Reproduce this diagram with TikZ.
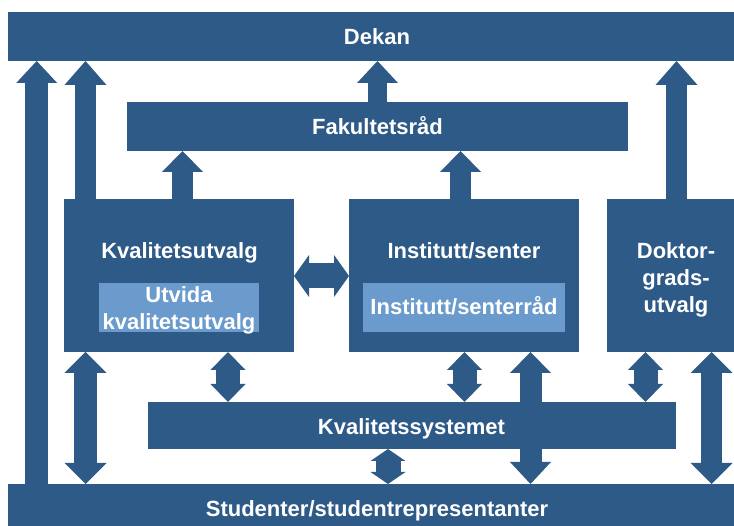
\documentclass[tikz,border=0pt]{standalone}
\usepackage{fontspec}
\setmainfont{Liberation Sans}
\usetikzlibrary{arrows.meta}
\definecolor{dk}{HTML}{2E5A87}
\definecolor{lt}{HTML}{6A9BCC}
\begin{document}
\begin{tikzpicture}[x=1pt,y=-1pt,
  box/.style={fill=dk, draw=none, inner sep=0pt, outer sep=0pt, anchor=north west},
  sub/.style={fill=lt, draw=none, inner sep=0pt, outer sep=0pt, anchor=north west},
  lbl/.style={text=white, font=\fontsize{22}{27}\selectfont\bfseries, anchor=base, inner sep=0pt},
  sgl/.style n args={3}{draw=dk, line width=#1pt, line cap=butt,
    -{Triangle[width=#2pt,length=#3pt,line width=0pt]}},
  dbl/.style n args={3}{draw=dk, line width=#1pt, line cap=butt,
    {Triangle[width=#2pt,length=#3pt,line width=0pt]}-{Triangle[width=#2pt,length=#3pt,line width=0pt]}}
]
\useasboundingbox (0,0) rectangle (734,526);
% boxes
\node[box, minimum width=726pt, minimum height=49pt] (dekan) at (8,12) {};
\node[box, minimum width=501pt, minimum height=49pt] (fak) at (127,102) {};
\node[box, minimum width=230pt, minimum height=153pt] (ku) at (64,199) {};
\node[box, minimum width=230pt, minimum height=153pt] (inst) at (349,199) {};
\node[box, minimum width=127pt, minimum height=153pt] (dok) at (607,199) {};
\node[box, minimum width=528pt, minimum height=47pt] (ksys) at (148,402) {};
\node[box, minimum width=726pt, minimum height=42pt] (stud) at (8,484) {};
\node[sub, minimum width=160pt, minimum height=49pt] (utv) at (99,283) {};
\node[sub, minimum width=202pt, minimum height=49pt] (isr) at (363,283) {};
% labels
\node[lbl] (lDekan) at (377,45) {Dekan};
\node[lbl] (lFak) at (377.5,135) {Fakultetsråd};
\node[lbl] (lKu) at (179.5,259) {Kvalitetsutvalg};
\node[lbl] (lUtv1) at (179,303) {Utvida};
\node[lbl] (lUtv2) at (179,330) {kvalitetsutvalg};
\node[lbl] (lInst) at (464,259) {Institutt/senter};
\node[lbl] (lIsr) at (464,315) {Institutt/senterråd};
\node[lbl] (lDok1) at (676,259) {Doktor-};
\node[lbl] (lDok2) at (676,286) {grads-};
\node[lbl] (lDok3) at (676,313) {utvalg};
\node[lbl] (lKsys) at (411.5,435) {Kvalitetssystemet};
\node[lbl] (lStud) at (377,517) {Studenter/studentrepresentanter};
% arrow axes
\coordinate (xa) at (36.7,0);
\coordinate (xb) at (85.5,0);
\coordinate (xc) at (377.5,0);
\coordinate (xd) at (676.5,0);
\coordinate (xe) at (182.5,0);
\coordinate (xf) at (460.5,0);
\coordinate (xg) at (228,0);
\coordinate (xh) at (464.5,0);
\coordinate (xi) at (645.5,0);
\coordinate (xj) at (388,0);
\coordinate (xk) at (711.5,0);
\coordinate (xl) at (530.5,0);
\coordinate (hy) at (0,276);
% arrows
\draw[sgl={22.7}{41}{22}] (stud.north -| xa) -- (dekan.south -| xa);
\draw[sgl={21}{42}{24}] (ku.north -| xb) -- (dekan.south -| xb);
\draw[sgl={19}{41}{22}] (fak.north -| xc) -- (dekan.south -| xc);
\draw[sgl={21}{42}{24}] (dok.north -| xd) -- (dekan.south -| xd);
\draw[sgl={21}{41}{21}] (ku.north -| xe) -- (fak.south -| xe);
\draw[sgl={21}{41}{21}] (inst.north -| xf) -- (fak.south -| xf);
\draw[dbl={23}{42}{21}] (ku.south -| xb) -- (stud.north -| xb);
\draw[dbl={24}{35}{18}] (ku.south -| xg) -- (ksys.north -| xg);
\draw[dbl={24}{35}{18}] (inst.south -| xh) -- (ksys.north -| xh);
\draw[dbl={24}{35}{18}] (dok.south -| xi) -- (ksys.north -| xi);
\draw[dbl={25}{35}{12}] (ksys.south -| xj) -- (stud.north -| xj);
\draw[dbl={21}{42}{21}] (dok.south -| xk) -- (stud.north -| xk);
\draw[sgl={22}{41}{21}] (ksys.north -| xl) -- (inst.south -| xl);
\draw[sgl={22}{41}{22}] (ksys.south -| xl) -- (stud.north -| xl);
\draw[dbl={25}{42}{15}] (ku.east |- hy) -- (inst.west |- hy);
\end{tikzpicture}
\end{document}
